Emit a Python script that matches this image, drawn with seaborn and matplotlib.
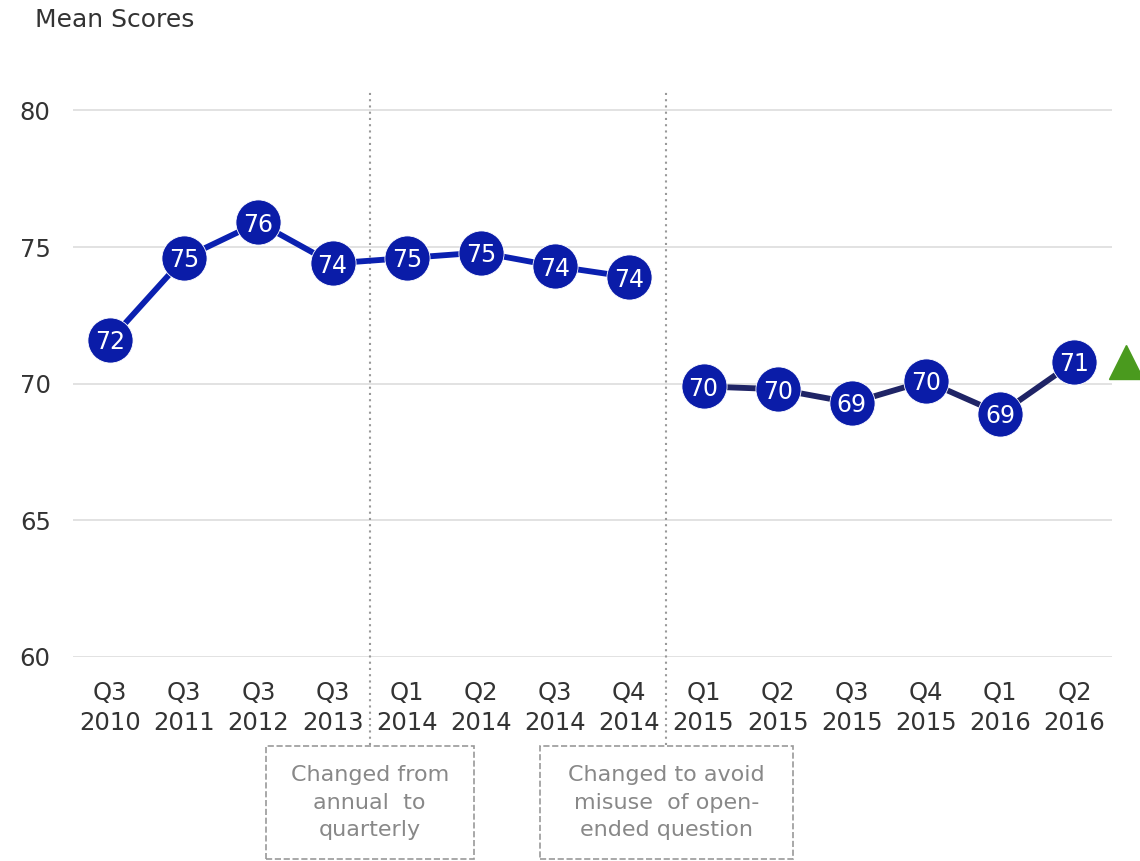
import matplotlib
matplotlib.use("Agg")
import matplotlib.pyplot as plt
import matplotlib.transforms as mtransforms
from matplotlib.patches import Rectangle
import pandas as pd
import seaborn as sns

# chart data
periods = ["Q3\n2010", "Q3\n2011", "Q3\n2012", "Q3\n2013", "Q1\n2014", "Q2\n2014", "Q3\n2014",
           "Q4\n2014", "Q1\n2015", "Q2\n2015", "Q3\n2015", "Q4\n2015", "Q1\n2016", "Q2\n2016"]
scores_old = [71.6, 74.6, 75.9, 74.4, 74.6, 74.8, 74.3, 73.9]
scores_new = [69.9, 69.8, 69.3, 70.1, 68.9, 70.8]
notes = ["Changed from\nannual  to\nquarterly", "Changed to avoid\nmisuse  of open-\nended question"]
note_pos = [3.5, 7.5]

df_old = pd.DataFrame({"x": range(len(scores_old)), "score": scores_old})
df_new = pd.DataFrame({"x": range(len(scores_old), len(periods)), "score": scores_new})

sns.set_style("white")
plt.rcParams["font.family"] = ["DejaVu Sans"]

fig = plt.figure(figsize=(11.4, 8.61), dpi=100)
ax = fig.add_axes([0.064, 0.237, 0.911, 0.656])

marker_col = "#0a1ca8"
sns.lineplot(data=df_old, x="x", y="score", ax=ax, color="#0a20b0", lw=4.2,
             marker="o", markersize=32.5, markerfacecolor=marker_col,
             markeredgecolor="white", markeredgewidth=0.6, zorder=3)
sns.lineplot(data=df_new, x="x", y="score", ax=ax, color="#1f2466", lw=4.2,
             marker="o", markersize=32.5, markerfacecolor=marker_col,
             markeredgecolor="white", markeredgewidth=0.6, zorder=3)

for df in (df_old, df_new):
    for x, v in zip(df["x"], df["score"]):
        ax.text(x, v, f"{v:.0f}", color="white", fontsize=17, ha="center",
                va="center_baseline", zorder=4)

# trend indicator
ax.plot([len(periods) - 0.3], [scores_new[-1]], marker="^", markersize=24,
        color="#4a9a1e", clip_on=False, zorder=4)

ax.set_xlim(-0.5, len(periods) - 0.5)
ax.set_ylim(60, 80.67)
ax.set_yticks([60, 65, 70, 75, 80])
ax.set_xticks(range(len(periods)))
ax.set_xticklabels(periods, linespacing=1.35)
ax.yaxis.grid(True, color="#dddddd", lw=1.2)
ax.tick_params(axis="both", length=0, labelsize=17.5, labelcolor="#333333")
ax.tick_params(axis="x", pad=17)
ax.tick_params(axis="y", pad=16)
ax.set_xlabel("")
ax.set_ylabel("")
for s in ax.spines.values():
    s.set_visible(False)

fig.text(0.031, 0.977, "Mean Scores", fontsize=18, color="#333333", va="center")

trans = mtransforms.blended_transform_factory(ax.transData, ax.transAxes)
for xp, note in zip(note_pos, notes):
    ax.axvline(xp, ymin=-0.156, ymax=1.0, color="#999999", ls=(0, (1, 2)),
               lw=1.5, clip_on=False, zorder=1)
    w = 1.4 if "annual" in note else 1.7
    ax.add_patch(Rectangle((xp - w, -0.358), 2 * w, 0.2, transform=trans,
                           fill=False, ls="--", ec="#999999", lw=1.2, clip_on=False))
    ax.text(xp, -0.258, note, transform=trans, ha="center", va="center",
            fontsize=16, color="#888888", linespacing=1.45)

fig.savefig("out.png", dpi=100, facecolor="white")
